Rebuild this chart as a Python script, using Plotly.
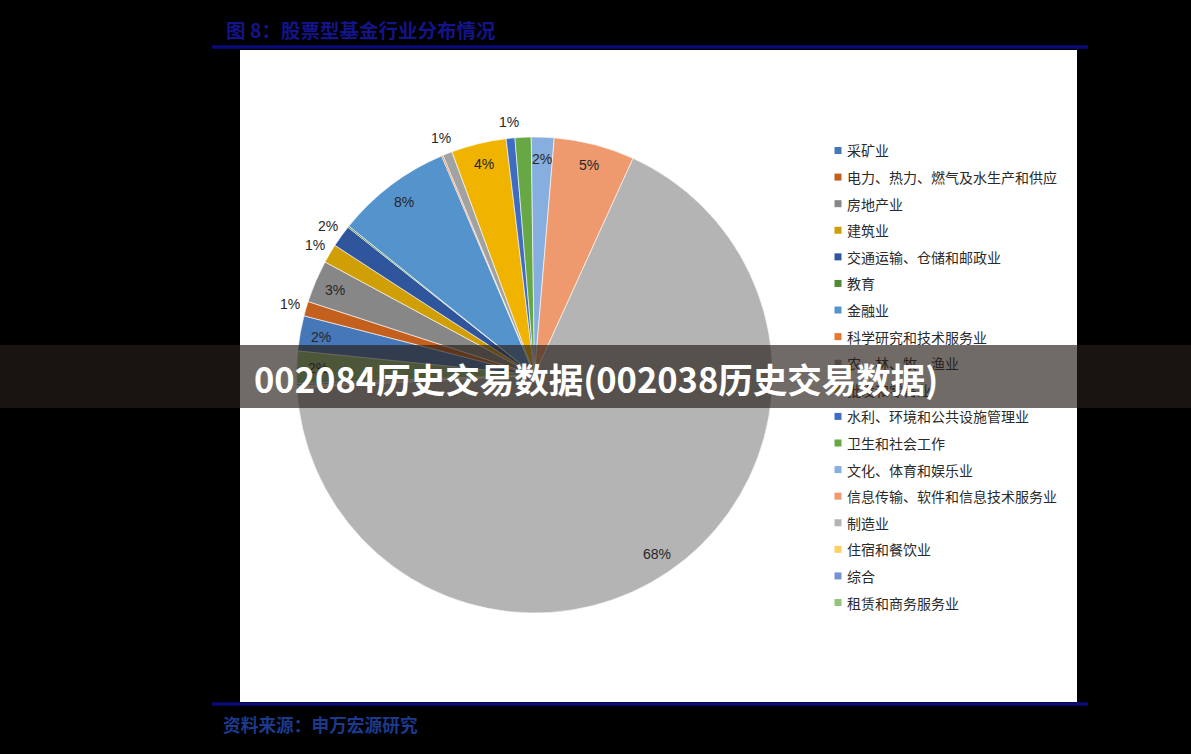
import math
import plotly.graph_objects as go

# ---------------- data ----------------
categories = ["采矿业", "电力、热力、燃气及水生产和供应", "房地产业", "建筑业",
              "交通运输、仓储和邮政业", "教育", "金融业", "科学研究和技术服务业",
              "农、林、牧、渔业", "批发和零售业", "水利、环境和公共设施管理业",
              "卫生和社会工作", "文化、体育和娱乐业", "信息传输、软件和信息技术服务业",
              "制造业", "住宿和餐饮业", "综合", "租赁和商务服务业"]
values = [2.4, 1.0, 2.9, 1.3, 1.5, 0.1, 7.9, 0.1, 0.65, 3.75, 0.6, 1.1,
          1.55, 5.5, 67.7, 0.15, 0.15, 2.2]
value_labels = ["2%", "1%", "3%", "1%", "2%", "", "8%", "", "1%", "4%", "1%", "",
                "2%", "5%", "68%", "", "", "2%"]
label_side = ["in", "out", "in", "out", "out", "", "in", "", "out", "in", "out", "",
              "in", "in", "in", "", "", "in"]
colors = ["#4677B8", "#C4601E", "#878787", "#CF9F05", "#2F569C", "#4F8A34",
          "#5593CC", "#E8762E", "#A2A2A2", "#F0B400", "#3E6CC2", "#67A844",
          "#86AFDF", "#EE9A6E", "#B4B4B4", "#FFD060", "#7293CF", "#93C47A"]
title_text = "图 8：股票型基金行业分布情况"
source_text = "资料来源：申万宏源研究"
banner_text = "002084历史交易数据(002038历史交易数据)"

# ---------------- layout constants ----------------
W, H = 1191, 754
CX, CY, R = 534.5, 375.0, 238.0
ROTATION = 275.8


def px(x):
    return x / W


def py(y):
    return 1 - y / H


fig = go.Figure()
fig.add_trace(go.Pie(
    labels=categories, values=values, sort=False, direction="clockwise",
    rotation=ROTATION, textinfo="none", hoverinfo="label+percent",
    marker=dict(colors=colors, line=dict(color="white", width=0.6)),
    domain=dict(x=[px(CX - R), px(CX + R)], y=[py(CY + R), py(CY - R)]),
    showlegend=False,
))

shapes = []
annotations = []

# white panel and rules
shapes.append(dict(type="rect", xref="paper", yref="paper", layer="below",
                   x0=px(240), x1=px(1077), y0=py(702), y1=py(50),
                   fillcolor="white", line=dict(width=0)))
for yy in (47, 704):
    shapes.append(dict(type="line", xref="paper", yref="paper", layer="below",
                       x0=px(212), x1=px(1088), y0=py(yy), y1=py(yy),
                       line=dict(color="#0B0B78", width=3.5)))

annotations.append(dict(text="<b>" + title_text + "</b>", xref="paper", yref="paper",
                        x=px(224), y=py(30), xanchor="left", yanchor="middle",
                        showarrow=False,
                        font=dict(family="Noto Sans CJK SC", size=19.5, color="#14148A")))
annotations.append(dict(text="<b>" + source_text + "</b>", xref="paper", yref="paper",
                        x=px(221), y=py(724), xanchor="left", yanchor="middle",
                        showarrow=False,
                        font=dict(family="Noto Sans CJK SC", size=17.7, color="#1C3A8C")))

# percentage labels, positioned from cumulative slice angles
total = sum(values)
cum = ROTATION
for v, lab, side in zip(values, value_labels, label_side):
    a0 = cum
    a1 = cum + v / total * 360.0
    cum = a1
    if not lab:
        continue
    mid = math.radians((a0 + a1) / 2)
    rr = R * (0.91 if side == "in" else 1.07)
    x = CX + rr * math.sin(mid)
    y = CY - rr * math.cos(mid)
    annotations.append(dict(text=lab, xref="paper", yref="paper", x=px(x), y=py(y),
                            xanchor="center", yanchor="middle", showarrow=False,
                            font=dict(family="Liberation Sans", size=14, color="#262626")))

# legend (manual, evenly spaced)
LEG_X, LEG_Y0, LEG_DY = 838.0, 150.5, 26.59
for i, (cat, col) in enumerate(zip(categories, colors)):
    yy = LEG_Y0 + i * LEG_DY
    shapes.append(dict(type="rect", xref="paper", yref="paper", layer="above",
                       x0=px(LEG_X - 3.5), x1=px(LEG_X + 3.5),
                       y0=py(yy + 3.5), y1=py(yy - 3.5),
                       fillcolor=col, line=dict(width=0)))
    annotations.append(dict(text=cat, xref="paper", yref="paper", x=px(845), y=py(yy),
                            xanchor="left", yanchor="middle", showarrow=False,
                            font=dict(family="Noto Sans CJK SC", size=14, color="#2A2A2A")))

# overlay banner (drawn last so it covers everything beneath)
annotations.append(dict(text=" ", xref="paper", yref="paper", x=0.5, y=py(376.5),
                        xanchor="center", yanchor="middle", showarrow=False,
                        width=W, height=63, borderpad=0, borderwidth=0,
                        bgcolor="rgba(40,30,24,0.66)", font=dict(size=10)))
annotations.append(dict(text="<b>" + banner_text + "</b>", xref="paper", yref="paper",
                        x=px(252), y=py(378), xanchor="left", yanchor="middle",
                        showarrow=False,
                        font=dict(family="Noto Sans CJK SC", size=34.5, color="white")))

fig.update_layout(
    width=W, height=H, autosize=False,
    margin=dict(l=0, r=0, t=0, b=0),
    paper_bgcolor="black", plot_bgcolor="black",
    shapes=shapes, annotations=annotations, showlegend=False,
)

fig.write_html("out.html")
